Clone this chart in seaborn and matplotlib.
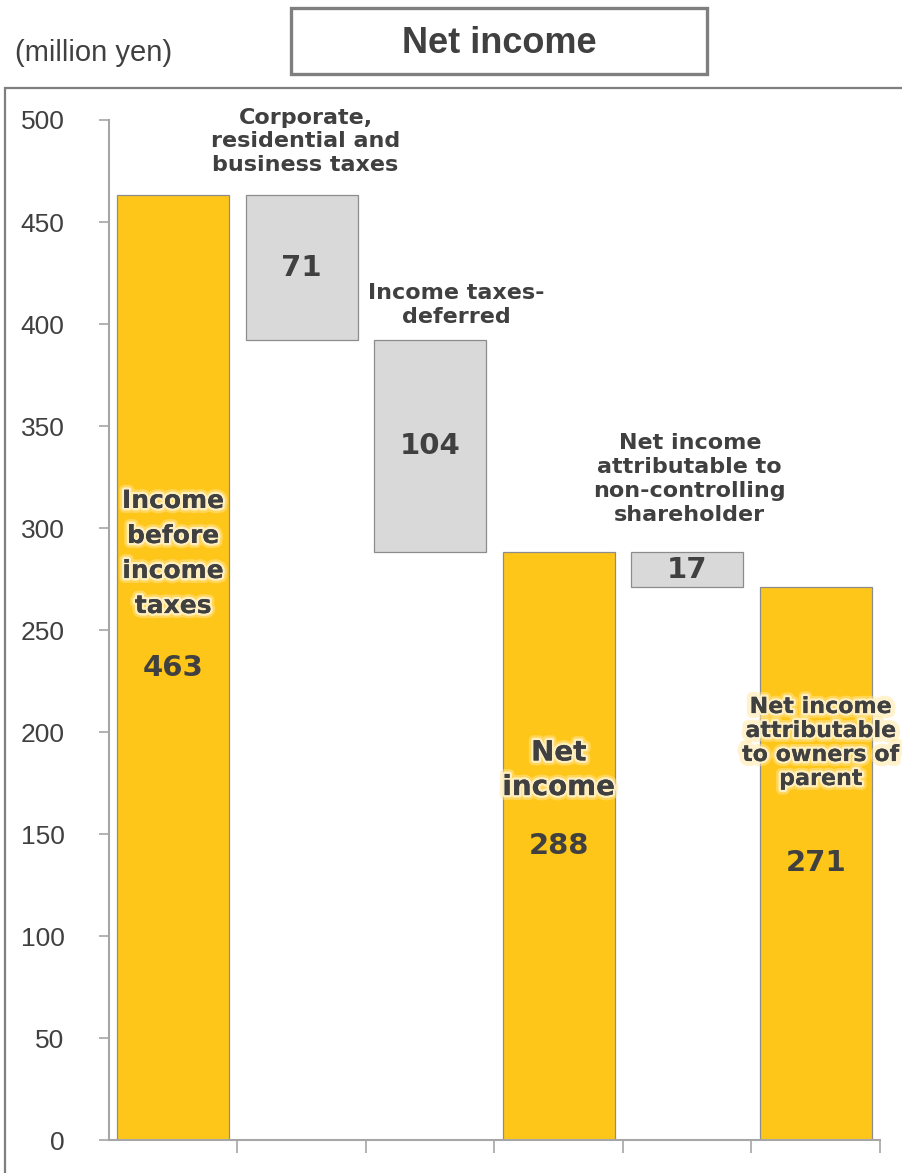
import matplotlib
matplotlib.use("Agg")
import matplotlib.pyplot as plt
import matplotlib.patheffects as pe
from matplotlib.patches import Rectangle
import pandas as pd
import seaborn as sns

# Waterfall data (million yen)
categories = ["before_tax", "corp_tax", "deferred_tax", "net_income", "minority", "owners"]
values = [463, 71, 104, 288, 17, 271]
kinds = ["total", "step", "step", "total", "step", "total"]
tops = [463, 463, 392, 288, 288, 271]

bar_labels = [
    "Income\nbefore\nincome\ntaxes",
    "Corporate,\nresidential and\nbusiness taxes",
    "Income taxes-\ndeferred",
    "Net\nincome",
    "Net income\nattributable to\nnon-controlling\nshareholder",
    "Net income\nattributable\nto owners of\nparent",
]
yticks = [0, 50, 100, 150, 200, 250, 300, 350, 400, 450, 500]

YELLOW = "#FFC61A"
GREY = "#D9D9D9"
TEXT = "#404040"
EDGE = "#8C8C8C"

sns.set_theme(style="white")
plt.rcParams["font.family"] = ["DejaVu Sans"]

df = pd.DataFrame({"cat": categories, "top": tops, "value": values, "kind": kinds})
palette = {c: (YELLOW if k == "total" else GREY) for c, k in zip(categories, kinds)}

fig = plt.figure(figsize=(9.03, 11.73), dpi=100)
ax = fig.add_axes([0.1207, 0.0281, 0.8538, 0.8696])

sns.barplot(data=df, x="cat", y="top", hue="cat", palette=palette, order=categories,
            hue_order=categories, legend=False, width=0.87, saturation=1,
            edgecolor=EDGE, linewidth=0.9, ax=ax)

# Float the step bars: each spans from top - value up to top
for patch in ax.patches:
    idx = int(round(patch.get_x() + patch.get_width() / 2))
    patch.set_y(tops[idx] - values[idx])
    patch.set_height(values[idx])

ax.set_xlim(-0.5, len(categories) - 0.5)
ax.set_ylim(0, 500)
ax.set_yticks(yticks)
ax.set_yticklabels([str(t) for t in yticks], fontsize=19, color=TEXT, family="Liberation Sans")
ax.set_xticks([i + 0.5 for i in range(len(categories))])
ax.set_xticklabels([""] * len(categories))
ax.set_xlabel("")
ax.set_ylabel("")
for side in ["top", "right"]:
    ax.spines[side].set_visible(False)
for side in ["left", "bottom"]:
    ax.spines[side].set_color("#A6A6A6")
    ax.spines[side].set_linewidth(1.5)
ax.tick_params(axis="y", direction="out", length=7, width=1.2, color="#A6A6A6", pad=25, left=True)
ax.tick_params(axis="x", direction="out", length=9, width=1.2, color="#A6A6A6", bottom=True)

glow = [pe.withStroke(linewidth=7, foreground="#FFE79A", alpha=0.5),
        pe.withStroke(linewidth=3.5, foreground="#FFF4D0", alpha=0.85),
        pe.Normal()]

# Labels above / beside the step bars
ax.text(1.03, 489.5, bar_labels[1], ha="center", va="center", fontsize=16,
        fontweight="bold", color=TEXT, linespacing=1.22)
ax.text(2.2, 409.5, bar_labels[2], ha="center", va="center", fontsize=16,
        fontweight="bold", color=TEXT, linespacing=1.25)
ax.text(4.02, 324, bar_labels[4], ha="center", va="center", fontsize=16,
        fontweight="bold", color=TEXT, linespacing=1.25)

# Labels inside the total bars
ax.text(0, 287.5, bar_labels[0], ha="center", va="center", fontsize=18,
        fontweight="bold", color=TEXT, linespacing=1.58, path_effects=glow)
ax.text(3, 181.5, bar_labels[3], ha="center", va="center", fontsize=20,
        fontweight="bold", color=TEXT, linespacing=1.3, path_effects=glow)
ax.text(5.04, 194.6, bar_labels[5], ha="center", va="center", fontsize=16,
        fontweight="bold", color=TEXT, linespacing=1.25, path_effects=glow)

# Value labels
value_pos = [231.4, None, None, 144, None, 135.8]
for i, (v, t, k) in enumerate(zip(values, tops, kinds)):
    y = value_pos[i] if k == "total" else t - v / 2
    ax.text(i, y, str(v), ha="center", va="center", fontsize=21,
            fontweight="bold", color=TEXT)

# Outer frame and title box
fig.add_artist(Rectangle((5 / 903, -0.02), 1.02, 0.925 + 0.02, transform=fig.transFigure,
                         fill=False, edgecolor="#7F7F7F", linewidth=1.6))
fig.add_artist(Rectangle((291 / 903, 1 - 74 / 1173), 416 / 903, 66 / 1173,
                         transform=fig.transFigure, fill=False,
                         edgecolor="#7F7F7F", linewidth=2.4))
fig.text(0.5526, 0.9625, "Net income", ha="center", va="center", fontsize=26,
         fontweight="bold", color=TEXT, family="Liberation Sans")
fig.text(0.104, 0.9545, "(million yen)", ha="center", va="center", fontsize=21,
         color=TEXT, family="Liberation Sans")

fig.savefig("out.png", dpi=100)
